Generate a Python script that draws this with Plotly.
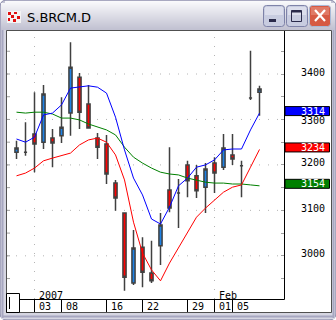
import plotly.graph_objects as go

# ---------------- data ----------------
dates = ["2006-12-28", "2006-12-29", "2007-01-03", "2007-01-04", "2007-01-05",
         "2007-01-08", "2007-01-09", "2007-01-10", "2007-01-11", "2007-01-12",
         "2007-01-16", "2007-01-17", "2007-01-18", "2007-01-19", "2007-01-22",
         "2007-01-23", "2007-01-24", "2007-01-25", "2007-01-26", "2007-01-29",
         "2007-01-30", "2007-01-31", "2007-02-01", "2007-02-02", "2007-02-05",
         "2007-02-06", "2007-02-07", "2007-02-08"]
opens = [3228, 3228, 3268, 3250, 3259, 3264, 3314, 3393, 3334, 3259, 3246, 3160, 3094, 2940,
         3019, 2962, 3022, 3145, 3138, 3200, 3176, 3151, 3204, 3195, 3222, 3198, 3347, 3360]
highs = [3253, 3294, 3360, 3376, 3279, 3349, 3470, 3402, 3376, 3270, 3266, 3167, 3096, 3057,
         3041, 3033, 3094, 3239, 3169, 3209, 3200, 3204, 3217, 3268, 3268, 3209, 3451, 3374]
lows = [3213, 3220, 3184, 3235, 3195, 3248, 3264, 3279, 3281, 3213, 3158, 3099, 2923, 2936,
        2931, 2940, 2980, 3096, 3061, 3129, 3127, 3094, 3138, 3189, 3200, 3129, 3343, 3308]
closes = [3237, 3228, 3246, 3356, 3248, 3283, 3415, 3316, 3281, 3239, 3180, 3127, 2953, 3017,
          2964, 2945, 3068, 3105, 3138, 3165, 3143, 3191, 3182, 3237, 3213, 3198, 3347, 3367]
ma_blue = [3257, 3250, 3261, 3310, 3314, 3332, 3369, 3371, 3374, 3371, 3358, 3305, 3233, 3171,
           3134, 3081, 3070, 3107, 3154, 3171, 3195, 3200, 3211, 3233, 3235, 3235, 3277, 3314]
ma_green = [3316, 3314, 3316, 3316, 3312, 3303, 3303, 3299, 3290, 3283, 3277, 3266, 3239, 3217,
            3204, 3193, 3184, 3180, 3178, 3171, 3167, 3162, 3160, 3160, 3158, 3158, 3156, 3154]
ma_red = [3176, 3182, 3193, 3209, 3215, 3220, 3226, 3244, 3255, 3259, 3250, 3222, 3167, 3074,
          3006, 2969, 2945, 2984, 3017, 3052, 3085, 3105, 3123, 3140, 3151, 3156, 3195, 3234]
day_ticks = [2, 5, 10, 14, 19, 22, 24]
day_labels = ["03", "08", "16", "22", "29", "01", "05"]
month_ticks = [2, 22]
month_labels = ["2007", "Feb"]
price_labels = [3000, 3100, 3200, 3300, 3400]
title = "S.BRCM.D"

# ---------------- geometry ----------------
W, H = 336, 320
L, R, T, B = 7, 284, 32, 299
XMIN = -(16.5 - L) / 9.0
XMAX = XMIN + (R - L) / 9.0
YMIN, YMAX = 2905.0, 3492.4
UNIT = (B - T) / (YMAX - YMIN)   # px per price unit

def px(x):
    return (x - L) / (R - L)

def py(y):
    return (B - y) / (B - T)

shapes = []
annotations = []

def rect(x0, y0, x1, y1, fill=None, line=None, lw=1, layer="below"):
    shapes.append(dict(type="rect", xref="paper", yref="paper",
                       x0=px(x0), x1=px(x1), y0=py(y1), y1=py(y0),
                       fillcolor=fill or "rgba(0,0,0,0)",
                       line=dict(color=line or "rgba(0,0,0,0)", width=lw if line else 0),
                       layer=layer))

def seg(x0, y0, x1, y1, color, lw=1, layer="above"):
    shapes.append(dict(type="line", xref="paper", yref="paper",
                       x0=px(x0), x1=px(x1), y0=py(y0), y1=py(y1),
                       line=dict(color=color, width=lw), layer=layer))

def rrect(x0, y0, x1, y1, r, fill, line, lw=1, layer="below"):
    p = [(x0 + r, y0), (x1 - r, y0), ("Q", x1, y0, x1, y0 + r), (x1, y1 - r),
         ("Q", x1, y1, x1 - r, y1), (x0 + r, y1), ("Q", x0, y1, x0, y1 - r),
         (x0, y0 + r), ("Q", x0, y0, x0 + r, y0)]
    s = "M %f,%f" % (px(p[0][0]), py(p[0][1]))
    for q in p[1:]:
        if q[0] == "Q":
            s += " Q %f,%f %f,%f" % (px(q[1]), py(q[2]), px(q[3]), py(q[4]))
        else:
            s += " L %f,%f" % (px(q[0]), py(q[1]))
    s += " Z"
    shapes.append(dict(type="path", xref="paper", yref="paper", path=s,
                       fillcolor=fill, line=dict(color=line, width=lw), layer=layer))

def blend(c1, c2, t):
    a = [int(c1[i:i + 2], 16) for i in (1, 3, 5)]
    b = [int(c2[i:i + 2], 16) for i in (1, 3, 5)]
    return "#%02x%02x%02x" % tuple(int(a[k] + (b[k] - a[k]) * t) for k in range(3))

# ---------------- window chrome ----------------
rrect(0, 0, 336, 320, 7, "#c4c4d4", "#8c8cac", 1)
for yy in range(1, 30):
    t = yy / 29.0
    c = blend("#fbfbfd", "#c2c2d2", t)
    inset = 4 if yy < 3 else 0
    rect(1 + inset, yy, 335 - inset, yy + 1, fill=c)
rect(1, 30, 7, 319, fill="#d6d6e2")
rect(330, 30, 335, 319, fill="#d6d6e2")
rect(1, 312, 335, 319, fill="#d6d6e2")
seg(2.5, 30, 2.5, 318, "#a6a6c0", 2, "below")
seg(333.5, 30, 333.5, 318, "#a6a6c0", 2, "below")
seg(2, 316.5, 334, 316.5, "#a6a6c0", 2, "below")
rect(6.5, 30.5, 331.5, 312.5, fill="#ffffff", line="#505050", lw=1)

# icon
rect(7, 11, 21, 23, fill="#f4f4f4")
for (a, b_, c, d) in [(8, 12, 11, 15), (14, 12, 17, 14), (11, 15, 14, 18), (17, 16, 20, 19),
                      (8, 18, 10, 21), (13, 19, 16, 22)]:
    rect(a, b_, c, d, fill="#e01010")

annotations.append(dict(x=px(25), y=py(17.5), xref="paper", yref="paper", text=title,
                        showarrow=False, xanchor="left", yanchor="middle",
                        font=dict(family="DejaVu Sans", size=13, color="#000000")))

# buttons
rrect(263.5, 5.5, 284.5, 26.5, 3, "#c8cce0", "#7e82a8", 1)
rrect(286.5, 5.5, 307.5, 26.5, 3, "#c8cce0", "#7e82a8", 1)
rrect(309.5, 5.5, 330.5, 26.5, 3, "#d65a44", "#a8bad8", 1)
rect(265, 7, 283, 15, fill="#dcdeec")
rect(288, 7, 306, 15, fill="#dcdeec")
rect(311, 7, 329, 15, fill="#e07a66")
rect(269, 19, 276, 22, fill="#2a2a4a")
rect(291.5, 10.5, 301.5, 21.5, line="#2a2a4a", lw=1, layer="above")
seg(291.5, 11.5, 301.5, 11.5, "#2a2a4a", 2)
seg(315, 10, 325, 21, "#ffffff", 2.2)
seg(325, 10, 315, 21, "#ffffff", 2.2)

# bottom-left box and axes frame
rect(6.5, 293.5, 19.5, 312.5, fill="#ffffff", line="#000000", lw=1, layer="above")
seg(9.5, 297, 9.5, 309, "#000000", 1)
seg(19, 299.5, 284.5, 299.5, "#000000", 1)
seg(284.5, 31, 284.5, 299.5, "#000000", 1)

# grid (dotted)
for v in price_labels:
    shapes.append(dict(type="line", xref="paper", yref="y", x0=0, x1=px(283), y0=v, y1=v,
                       line=dict(color="#b4b4b4", width=1, dash="1px,8px"), layer="below"))
for i in month_ticks:
    shapes.append(dict(type="line", xref="x", yref="paper", x0=i, x1=i, y0=0, y1=1,
                       line=dict(color="#b4b4b4", width=1, dash="1px,8px"), layer="below"))
v = 2950
while v <= 3450:
    shapes.append(dict(type="line", xref="paper", yref="y", x0=0, x1=px(10), y0=v, y1=v,
                       line=dict(color="#a0a0a0", width=1), layer="above"))
    v += 50

# date separators and labels
for i, lab in zip(day_ticks, day_labels):
    shapes.append(dict(type="line", xref="x", yref="paper", x0=i, x1=i, y0=py(299.5), y1=py(312),
                       line=dict(color="#000000", width=1), layer="above"))
    annotations.append(dict(x=i, y=py(306), xref="x", yref="paper", text=lab, showarrow=False,
                            xanchor="left", yanchor="middle", xshift=2,
                            font=dict(family="DejaVu Sans Mono", size=10, color="#000000")))
for i, lab in zip(month_ticks, month_labels):
    annotations.append(dict(x=i, y=py(295), xref="x", yref="paper", text=lab, showarrow=False,
                            xanchor="left", yanchor="middle", xshift=2,
                            font=dict(family="DejaVu Sans Mono", size=10, color="#000000")))

# price labels (3300 sits just under the 3314 box, as in the reference)
for v in price_labels:
    annotations.append(dict(x=px(327), y=v, xref="paper", yref="y", text=str(v), showarrow=False,
                            xanchor="right", yanchor="middle", yshift=(-1 if v == 3300 else 2),
                            font=dict(family="DejaVu Sans Mono", size=10, color="#000000")))

# last-value boxes
for series, col in [(ma_blue, "#0000ff"), (ma_red, "#ff0000"), (ma_green, "#008000")]:
    v = series[-1]
    half = 4.5 / UNIT
    off = 2 / UNIT
    shapes.append(dict(type="rect", xref="paper", yref="y", x0=px(285), x1=px(329.5),
                       y0=v + off - half, y1=v + off + half, fillcolor=col,
                       line=dict(color="#000000", width=1), layer="above"))
    annotations.append(dict(x=px(327), y=v, xref="paper", yref="y", text=str(v), showarrow=False,
                            xanchor="right", yanchor="middle", yshift=2,
                            font=dict(family="DejaVu Sans Mono", size=10, color="#ffffff")))

# ---------------- traces ----------------
xs = list(range(len(dates)))
fig = go.Figure()
fig.add_trace(go.Scatter(x=xs, y=ma_green, mode="lines", line=dict(color="#008000", width=1),
                         hoverinfo="skip", showlegend=False))
fig.add_trace(go.Scatter(x=xs, y=ma_red, mode="lines", line=dict(color="#ff0000", width=1),
                         hoverinfo="skip", showlegend=False))
fig.add_trace(go.Scatter(x=xs, y=ma_blue, mode="lines", line=dict(color="#0000ff", width=1),
                         hoverinfo="skip", showlegend=False))
fig.add_trace(go.Candlestick(x=xs, open=opens, high=highs, low=lows, close=closes,
                             increasing=dict(fillcolor="#1e82e6", line=dict(color="#404040", width=1.5)),
                             decreasing=dict(fillcolor="#ff0000", line=dict(color="#404040", width=1.5)),
                             whiskerwidth=0, hoverinfo="skip", showlegend=False))

fig.update_layout(
    width=W, height=H,
    margin=dict(l=L, r=W - R, t=T, b=H - B, pad=0),
    paper_bgcolor="#ffffff", plot_bgcolor="rgba(0,0,0,0)",
    boxgap=0.5,
    xaxis=dict(range=[XMIN, XMAX], showgrid=False, zeroline=False, showticklabels=False,
               showline=False, ticks="", rangeslider=dict(visible=False), fixedrange=True),
    yaxis=dict(range=[YMIN, YMAX], side="right", showgrid=False, zeroline=False,
               showticklabels=False, showline=False, ticks="inside", ticklen=3,
               tickcolor="#a0a0a0", tickwidth=1, tick0=0, dtick=50, fixedrange=True),
    shapes=shapes, annotations=annotations, showlegend=False,
)
fig.write_html("out.html", config={"displayModeBar": False})
